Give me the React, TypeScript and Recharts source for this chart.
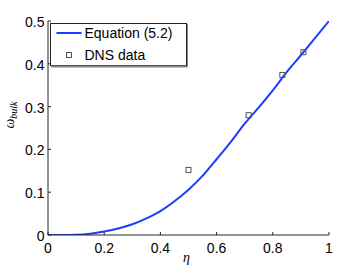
import React from 'react';
import { ComposedChart, Line, Scatter, XAxis, YAxis, Legend } from 'recharts';

// Equation (5.2) curve
const curveEta = [0, 0.05, 0.1, 0.15, 0.2, 0.25, 0.3, 0.35, 0.4, 0.45, 0.5, 0.55, 0.6, 0.65, 0.7, 0.75, 0.8, 0.85, 0.9, 0.95, 1.0];
const curveOmega = [0, 0, 0.0006, 0.003, 0.008, 0.015, 0.025, 0.039, 0.056, 0.079, 0.106, 0.138, 0.177, 0.217, 0.260, 0.298, 0.338, 0.381, 0.420, 0.460, 0.5];

// DNS data points
const dnsEta = [0.5, 0.714, 0.834, 0.909];
const dnsOmega = [0.152, 0.28, 0.374, 0.427];

const xTicks = [0, 0.2, 0.4, 0.6, 0.8, 1];
const xTickLabels = ['0', '0.2', '0.4', '0.6', '0.8', '1'];
const yTicks = [0, 0.1, 0.2, 0.3, 0.4, 0.5];
const yTickLabels = ['0', '0.1', '0.2', '0.3', '0.4', '0.5'];

const curveData = curveEta.map((eta, i) => ({ eta, omega: curveOmega[i] }));
const dnsData = dnsEta.map((eta, i) => ({ eta, omega: dnsOmega[i] }));

const FONT = '"Liberation Sans", Arial, Helvetica, sans-serif';
const SERIF = '"Liberation Serif", "DejaVu Serif", serif';
const AXIS = '#262626';
const LINE_COLOR = '#1f3bff';
const TICK_LEN = 3;

const labelFor = (value: number, ticks: number[], labels: string[]) => {
  const i = ticks.findIndex((t) => Math.abs(t - value) < 1e-9);
  return i >= 0 ? labels[i] : String(value);
};

const BottomTick = (props: any) => {
  const { x, y, payload } = props;
  return (
    <g>
      <line x1={x} x2={x} y1={y} y2={y - TICK_LEN} stroke={AXIS} strokeWidth={1} />
      <text x={x} y={y + 17.5} textAnchor="middle" fontFamily={FONT} fontSize={14} fill="#000">
        {labelFor(payload.value, xTicks, xTickLabels)}
      </text>
    </g>
  );
};

const TopTick = (props: any) => {
  const { x, y } = props;
  return <line x1={x} x2={x} y1={y} y2={y + TICK_LEN} stroke={AXIS} strokeWidth={1} />;
};

const LeftTick = (props: any) => {
  const { x, y, payload } = props;
  return (
    <g>
      <line x1={x} x2={x + TICK_LEN} y1={y} y2={y} stroke={AXIS} strokeWidth={1} />
      <text x={x - 3.5} y={y + 6} textAnchor="end" fontFamily={FONT} fontSize={14} fill="#000">
        {labelFor(payload.value, yTicks, yTickLabels)}
      </text>
    </g>
  );
};

const RightTick = (props: any) => {
  const { x, y } = props;
  return <line x1={x} x2={x - TICK_LEN} y1={y} y2={y} stroke={AXIS} strokeWidth={1} />;
};

const SquareShape = (props: any) => {
  const { cx, cy } = props;
  return <rect x={cx - 2.5} y={cy - 2.5} width={5} height={5} fill="none" stroke="#555" strokeWidth={1} />;
};

const LegendBox = () => (
  <svg width={139} height={45} style={{ display: 'block' }}>
    <rect x={0.5} y={0.5} width={136} height={42} fill="#fff" stroke="#222" strokeWidth={1} />
    <line x1={1} x2={137.5} y1={43.5} y2={43.5} stroke="#888" strokeWidth={2} />
    <line x1={137.5} x2={137.5} y1={1} y2={44} stroke="#888" strokeWidth={1} />
    <line x1={6.5} x2={31.5} y1={10} y2={10} stroke={LINE_COLOR} strokeWidth={2} />
    <text x={34.5} y={15} fontFamily={FONT} fontSize={14} fill="#000">Equation (5.2)</text>
    <rect x={16.5} y={29.5} width={5} height={5} fill="none" stroke="#555" strokeWidth={1} />
    <text x={34.5} y={37} fontFamily={FONT} fontSize={14} fill="#000">DNS data</text>
  </svg>
);

const XLabel = (props: any) => {
  const vb = props.viewBox || { x: 48, y: 235, width: 281, height: 39 };
  return (
    <text x={vb.x + vb.width / 2 - 2} y={vb.y + 26.5} textAnchor="middle" fontFamily={SERIF} fontStyle="italic" fontSize={14} fill="#000">
      η
    </text>
  );
};

const YLabel = (props: any) => {
  const vb = props.viewBox || { x: 0, y: 21, width: 48, height: 214 };
  const cx = vb.x + 14;
  const cy = vb.y + vb.height / 2 - 13;
  return (
    <text x={cx} y={cy} transform={`rotate(-90 ${cx} ${cy})`} textAnchor="middle" fontFamily={SERIF} fontStyle="italic" fontSize={14} fill="#000">
      ω<tspan fontSize={10} dy={3}>bulk</tspan>
    </text>
  );
};

export default function App() {
  return (
    <div style={{ position: 'absolute', left: 0, top: 0, width: 364, height: 274, background: '#fff' }}>
      <ComposedChart width={364} height={274} margin={{ top: 21, right: 35, left: 0, bottom: 0 }}>
        <XAxis
          xAxisId={0}
          dataKey="eta"
          type="number"
          domain={[0, 1]}
          ticks={xTicks}
          interval={0}
          allowDataOverflow
          tickSize={0}
          tickMargin={0}
          tickLine={false}
          tick={BottomTick}
          axisLine={{ stroke: AXIS, strokeWidth: 1 }}
          height={39}
          label={{ content: XLabel }}
        />
        <XAxis
          xAxisId="t"
          orientation="top"
          type="number"
          domain={[0, 1]}
          ticks={xTicks}
          interval={0}
          allowDataOverflow
          tickSize={0}
          tickMargin={0}
          tickLine={false}
          tick={TopTick}
          axisLine={{ stroke: AXIS, strokeWidth: 1 }}
          height={0}
        />
        <YAxis
          yAxisId={0}
          type="number"
          domain={[0, 0.5]}
          ticks={yTicks}
          interval={0}
          allowDataOverflow
          tickSize={0}
          tickMargin={0}
          tickLine={false}
          tick={LeftTick}
          axisLine={{ stroke: AXIS, strokeWidth: 1 }}
          width={48}
          label={{ content: YLabel }}
        />
        <YAxis
          yAxisId="r"
          orientation="right"
          type="number"
          domain={[0, 0.5]}
          ticks={yTicks}
          interval={0}
          allowDataOverflow
          tickSize={0}
          tickMargin={0}
          tickLine={false}
          tick={RightTick}
          axisLine={{ stroke: AXIS, strokeWidth: 1 }}
          width={0}
        />
        <Line
          data={curveData}
          dataKey="omega"
          xAxisId={0}
          yAxisId={0}
          type="monotone"
          stroke={LINE_COLOR}
          strokeWidth={2}
          dot={false}
          activeDot={false}
          isAnimationActive={false}
        />
        <Scatter
          data={dnsData}
          dataKey="omega"
          xAxisId={0}
          yAxisId={0}
          shape={SquareShape}
          isAnimationActive={false}
        />
        <Legend
          layout="vertical"
          align="center"
          verticalAlign="middle"
          content={LegendBox}
          wrapperStyle={{ position: 'absolute', left: 50, top: 23, width: 139, height: 45, margin: 0, padding: 0 }}
        />
      </ComposedChart>
    </div>
  );
}
